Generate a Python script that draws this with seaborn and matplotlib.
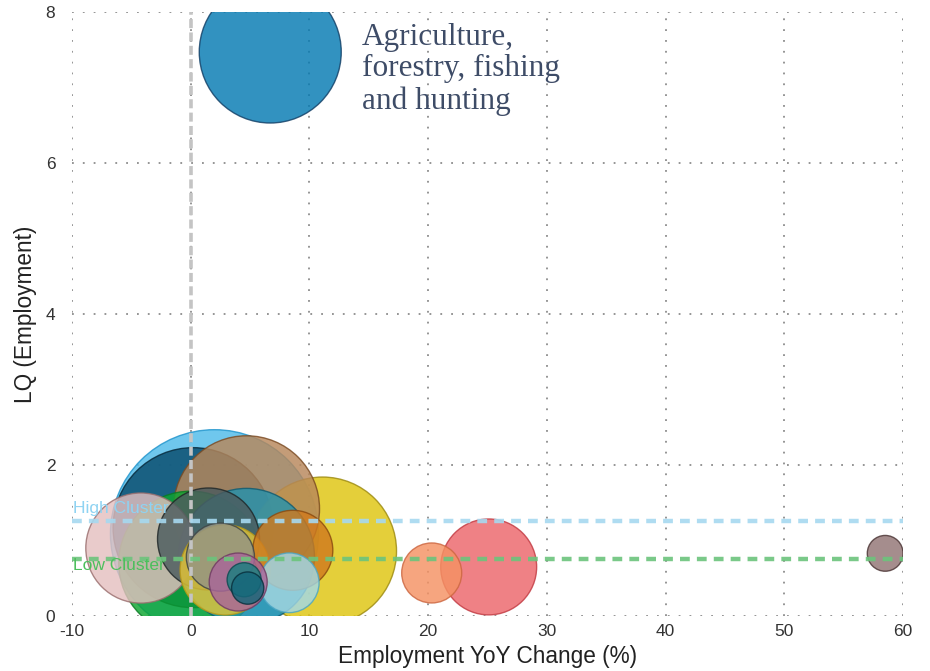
import matplotlib
matplotlib.use("Agg")
import matplotlib.pyplot as plt
import seaborn as sns
import pandas as pd

# Industry bubbles: employment YoY change (%), location quotient, employment (jobs)
sector_ids = ["s01", "s02", "s03", "s04", "s05", "s06", "s07", "s08", "s09", "s10",
              "s11", "s12", "s13", "s14", "s15", "s16", "s17", "s18", "s19"]
yoy_change = [6.7, 2.0, 0.2, 11.1, 4.7, 0.0, 4.7, -4.2, 1.5, 25.1,
              2.9, 8.6, 2.5, 20.3, 8.3, 4.0, 58.5, 4.5, 4.8]
lq_employment = [7.47, 1.09, 1.17, 0.86, 1.42, 0.70, 0.79, 0.90, 1.02, 0.65,
                 0.61, 0.87, 0.78, 0.57, 0.44, 0.45, 0.83, 0.48, 0.37]
employment = [5040, 10820, 6400, 5480, 5330, 5180, 4620, 3030, 2600, 2300,
              2030, 1600, 1160, 900, 890, 840, 320, 290, 260]

highlight_label = "Agriculture,\nforestry, fishing\nand hunting"
high_cluster = 1.258
low_cluster = 0.76
x_ticks = [-10, 0, 10, 20, 30, 40, 50, 60]
y_ticks = [0, 2, 4, 6, 8]

fill_colors = ["#057ab2", "#4fbbea", "#084b6c", "#dfc50e", "#b8875a", "#0ca52f",
               "#2592ad", "#e5c0c0", "#4c5b5e", "#ec656a", "#e3c536", "#d07a1e",
               "#959585", "#f59263", "#a2d8e8", "#a9669a", "#927474", "#1a7f80",
               "#15667a"]
edge_colors = ["#123f66", "#1f94cc", "#06283a", "#9c8a10", "#7a4a22", "#0a7a22",
               "#0f5a70", "#9a6e6e", "#1e2627", "#c23a42", "#b89a18", "#8a4a10",
               "#3e4444", "#cc6640", "#4aa6c4", "#6e3a62", "#4a3434", "#0c4a50",
               "#082f3c"]

df = pd.DataFrame({
    "sector": sector_ids,
    "yoy": yoy_change,
    "lq": lq_employment,
    "jobs": employment,
    "edge": edge_colors,
})
palette = dict(zip(sector_ids, fill_colors))
# largest bubbles first so small ones stay visible on top
df = df.sort_values("jobs", ascending=False, kind="stable").reset_index(drop=True)

sns.set_theme(style="white")
plt.rcParams["font.family"] = ["Liberation Sans", "DejaVu Sans"]
plt.rcParams["axes.unicode_minus"] = False

W, H, DPI = 930, 671, 100
fig = plt.figure(figsize=(W / DPI, H / DPI), dpi=DPI)
left_px, right_px, top_px, bottom_px = 72, 903, 12, 616
ax = fig.add_axes([left_px / W, 1 - bottom_px / H,
                   (right_px - left_px) / W, (bottom_px - top_px) / H])

# marker area proportional to employment; 1 job unit -> 1.44^2 pt^2
max_jobs = max(employment)
max_area = (1.44 ** 2) * max_jobs
sns.scatterplot(data=df, x="yoy", y="lq", hue="sector", palette=palette,
                size="jobs", sizes=(0, max_area), size_norm=(0, max_jobs),
                edgecolor=list(df["edge"]), linewidth=1.0, alpha=0.82,
                legend=False, ax=ax, zorder=2)

ax.set_xlim(-10, 60)
ax.set_ylim(0, 8)
ax.set_xticks(x_ticks)
ax.set_yticks(y_ticks)
ax.grid(True, color="#8c8c8c", linestyle=(0, (1, 5)), linewidth=1.3, zorder=0)
ax.set_axisbelow(True)
for s in ax.spines.values():
    s.set_visible(False)
ax.tick_params(axis="both", length=0, labelsize=12.5, labelcolor="#333333")
ax.tick_params(axis="y", pad=12)
ax.tick_params(axis="x", pad=6)

ax.set_xlabel("Employment YoY Change (%)", fontsize=16.3, color="#222222", labelpad=4)
ax.set_ylabel("LQ (Employment)", fontsize=16.3, color="#222222", labelpad=6)

# reference lines
ax.axvline(0, color="#c4c4c4", linestyle=(0, (2.5, 1.2)), linewidth=2.6, zorder=4)
ax.axhline(high_cluster, color="#a6d9f0", linestyle=(0, (2.2, 1.6)), linewidth=3.2,
           alpha=0.9, zorder=4)
ax.axhline(low_cluster, color="#6cc47c", linestyle=(0, (2.2, 1.6)), linewidth=3.2,
           alpha=0.9, zorder=4)
ax.text(-9.9, 1.43, "High Cluster", color="#8fd3f2", fontsize=12.5, va="center",
        ha="left", zorder=5)
ax.text(-9.9, 0.675, "Low Cluster", color="#4cbf5c", fontsize=12.5, va="center",
        ha="left", zorder=5)

ax.text(14.4, 7.86, highlight_label, color="#3e4c67", fontsize=22.5,
        family=["Liberation Serif", "DejaVu Serif"], va="top", ha="left",
        linespacing=1.13, zorder=5)

fig.savefig("out.png", dpi=DPI)
